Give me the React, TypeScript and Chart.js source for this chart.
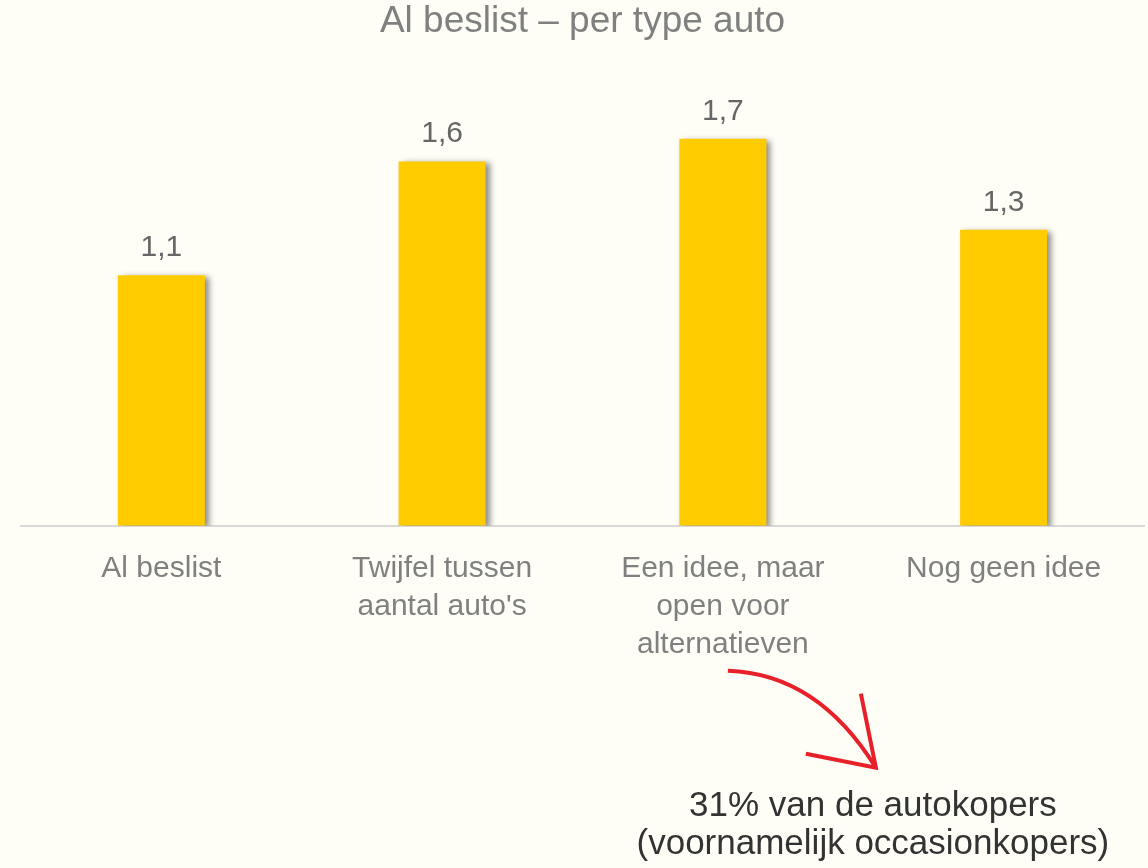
import React, { useEffect, useRef } from "react";
import { Chart, registerables } from "chart.js";

Chart.register(...registerables);

const categories: string[][] = [
  ["Al beslist"],
  ["Twijfel tussen", "aantal auto's"],
  ["Een idee, maar", "open voor", "alternatieven"],
  ["Nog geen idee"],
];
const values: number[] = [1.1, 1.6, 1.7, 1.3];
const titleText = "Al beslist – per type auto";
const noteLines: string[] = ["31% van de autokopers", "(voornamelijk occasionkopers)"];

const FONT = "'Liberation Sans', Arial, sans-serif";
const BG = "#FEFEF7";

const bgPlugin = {
  id: "bg",
  beforeDraw(chart: any) {
    const ctx = chart.ctx;
    ctx.save();
    ctx.fillStyle = BG;
    ctx.fillRect(0, 0, chart.width, chart.height);
    ctx.restore();
  },
};

const shadowPlugin = {
  id: "barShadow",
  beforeDatasetDraw(chart: any) {
    const ctx = chart.ctx;
    ctx.save();
    ctx.shadowColor = "rgba(0,0,0,0.45)";
    ctx.shadowBlur = 6;
    ctx.shadowOffsetX = 4;
    ctx.shadowOffsetY = 2;
  },
  afterDatasetDraw(chart: any) {
    chart.ctx.restore();
  },
};

const labelPlugin = {
  id: "valueLabels",
  afterDatasetsDraw(chart: any) {
    const ctx = chart.ctx;
    const meta = chart.getDatasetMeta(0);
    ctx.save();
    ctx.font = `30px ${FONT}`;
    ctx.fillStyle = "#666666";
    ctx.textAlign = "center";
    ctx.textBaseline = "alphabetic";
    meta.data.forEach((bar: any, i: number) => {
      const txt = String(values[i]).replace(".", ",");
      ctx.fillText(txt, bar.x, bar.y - 19);
    });
    ctx.restore();
  },
};

const notePlugin = {
  id: "note",
  afterDraw(chart: any) {
    const ctx = chart.ctx;
    const bottom = chart.chartArea.bottom;
    const xs = chart.scales.x;
    const cx = xs.getPixelForValue(2);
    ctx.save();
    ctx.strokeStyle = "#E8202A";
    ctx.lineWidth = 4;
    ctx.lineCap = "butt";
    const sx = cx + 5, sy = bottom + 145;
    const tx = cx + 153, ty = bottom + 242;
    ctx.beginPath();
    ctx.moveTo(sx, sy);
    ctx.quadraticCurveTo(cx + 95, bottom + 148, tx, ty);
    ctx.stroke();
    ctx.beginPath();
    ctx.moveTo(cx + 138, bottom + 168);
    ctx.lineTo(tx, ty);
    ctx.lineTo(cx + 83, bottom + 228);
    ctx.stroke();
    ctx.font = `35px ${FONT}`;
    ctx.fillStyle = "#333333";
    ctx.textAlign = "center";
    ctx.textBaseline = "alphabetic";
    ctx.fillText(noteLines[0], cx + 150, bottom + 290);
    ctx.fillText(noteLines[1], cx + 150, bottom + 328);
    ctx.restore();
  },
};

export default function App() {
  const ref = useRef<HTMLCanvasElement | null>(null);
  useEffect(() => {
    if (!ref.current) return;
    const chart = new Chart(ref.current, {
      type: "bar",
      data: {
        labels: categories,
        datasets: [
          {
            data: values,
            backgroundColor: "#FFCC00",
            borderWidth: 0,
            categoryPercentage: 1,
            barPercentage: 0.31,
          },
        ],
      },
      options: {
        animation: false,
        responsive: false,
        layout: { padding: { left: 21, right: 4, top: 0, bottom: 180 } },
        plugins: {
          legend: { display: false },
          tooltip: { enabled: false },
          title: {
            display: true,
            text: titleText,
            color: "#808080",
            font: { family: FONT, size: 37, weight: "normal" },
            padding: { top: 0, bottom: 26 },
          },
        },
        scales: {
          x: {
            grid: { display: false, drawTicks: false },
            border: { display: true, color: "#D9D9D9", width: 2 },
            ticks: {
              color: "#808080",
              font: { family: FONT, size: 30, lineHeight: 1.27 },
              padding: 24,
              maxRotation: 0,
              autoSkip: false,
            },
          },
          y: {
            display: false,
            min: 0,
            max: 2,
          },
        },
      },
      plugins: [bgPlugin, shadowPlugin, labelPlugin, notePlugin],
    });
    return () => chart.destroy();
  }, []);
  return (
    <div style={{ position: "absolute", left: 0, top: 0, width: 1148, height: 868, background: BG }}>
      <canvas ref={ref} width={1148} height={868} />
    </div>
  );
}
